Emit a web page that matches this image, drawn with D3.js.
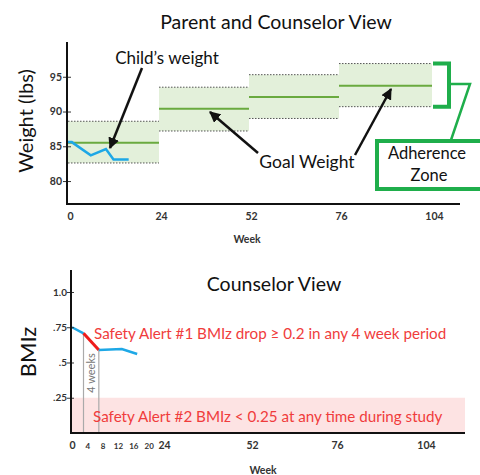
<!DOCTYPE html>
<html>
<head>
<meta charset="utf-8">
<script src="https://cdn.jsdelivr.net/npm/d3@7/dist/d3.min.js"></script>
<style>
  html, body { margin: 0; padding: 0; background: #fff; }
  svg { display: block; font-family: Lato, "Open Sans", sans-serif; }
  .tick text { fill: #333; font-weight: 700; }
</style>
</head>
<body>
<div id="chart"></div>
<script>
// Top panel: weight vs adherence zones
const weekTicks = [0, 24, 52, 76, 104];
const zoneStart = [0, 24, 52, 76];
const zoneEnd = [24, 52, 76, 104];
const zoneUpper = [88.6, 93.5, 95.3, 96.9];
const zoneLower = [82.6, 87.2, 89.0, 90.7];
const goalWeight = [85.5, 90.4, 92.1, 93.7];
const weightTicks = [80, 85, 90, 95];

const childWeeks = [0, 1, 6, 10, 12, 16];
const childWeight = [85.6, 85.6, 83.7, 84.6, 83.1, 83.1];

// Bottom panel: BMIz
const bmizWeeks = [0, 3, 7, 13, 17];
const bmizValues = [0.75, 0.707, 0.589, 0.596, 0.56];
const alertStart = 3, alertEnd = 7;
const bmizTicks = [0.25, 0.5, 0.75, 1.0];
const bmizTickLabels = ['.25', '.5', '.75', '1.0'];
const smallWeekTicks = [4, 8, 12, 16, 20];
const lowBmiz = 0.25;

const width = 480, height = 475;
const svg = d3.select('#chart').append('svg')
  .attr('width', width).attr('height', height);

const defs = svg.append('defs');
defs.append('marker')
  .attr('id', 'arrow')
  .attr('viewBox', '0 0 10 10')
  .attr('refX', 9).attr('refY', 5)
  .attr('markerWidth', 4.5).attr('markerHeight', 4.5)
  .attr('orient', 'auto')
  .append('path').attr('d', 'M0,0L10,5L0,10z').attr('fill', '#111');

// ---------- top chart ----------
const xTop = d3.scaleLinear().domain(weekTicks).range([68, 159, 249, 339, 432]);
const yTop = d3.scaleLinear().domain([76.7, 100]).range([204, 42]);

const topG = svg.append('g');

topG.append('text')
  .attr('x', 276).attr('y', 29)
  .attr('text-anchor', 'middle')
  .attr('font-size', '19.5px').attr('fill', '#111')
  .text('Parent and Counselor View');

const zones = zoneStart.map((s, i) => ({ s, e: zoneEnd[i], hi: zoneUpper[i], lo: zoneLower[i], goal: goalWeight[i] }));

topG.selectAll('.zone').data(zones).join('rect')
  .attr('class', 'zone')
  .attr('x', d => xTop(d.s))
  .attr('width', d => xTop(d.e) - xTop(d.s))
  .attr('y', d => yTop(d.hi))
  .attr('height', d => yTop(d.lo) - yTop(d.hi))
  .attr('fill', '#e3f0da');

['hi', 'lo'].forEach(k => {
  topG.selectAll('.edge-' + k).data(zones).join('line')
    .attr('class', 'edge-' + k)
    .attr('x1', d => xTop(d.s)).attr('x2', d => xTop(d.e))
    .attr('y1', d => yTop(d[k])).attr('y2', d => yTop(d[k]))
    .attr('stroke', '#555').attr('stroke-width', 1)
    .attr('stroke-dasharray', '1.5,1.5');
});

topG.selectAll('.goal').data(zones).join('line')
  .attr('class', 'goal')
  .attr('x1', d => xTop(d.s)).attr('x2', d => xTop(d.e))
  .attr('y1', d => yTop(d.goal)).attr('y2', d => yTop(d.goal))
  .attr('stroke', '#6aaa3f').attr('stroke-width', 2);

const childLine = d3.line().x(d => xTop(d[0])).y(d => yTop(d[1]));
topG.append('path')
  .datum(childWeeks.map((w, i) => [w, childWeight[i]]))
  .attr('d', childLine)
  .attr('fill', 'none').attr('stroke', '#1ea8e6').attr('stroke-width', 2.5);

// axes
topG.append('g')
  .attr('transform', 'translate(67,0)')
  .call(d3.axisLeft(yTop).tickValues(weightTicks).tickSize(5).tickSizeOuter(0))
  .call(g => g.select('.domain').remove())
  .call(g => g.selectAll('.tick line').attr('stroke', '#333').attr('x2', 4).attr('x1', -4))
  .call(g => g.selectAll('.tick text').attr('x', -5).attr('font-size', '10.5px').attr('font-family', 'Lato'));

topG.append('line').attr('x1', 67).attr('x2', 67).attr('y1', 42).attr('y2', 205)
  .attr('stroke', '#111').attr('stroke-width', 2);
topG.append('line').attr('x1', 66).attr('x2', 460).attr('y1', 204).attr('y2', 204)
  .attr('stroke', '#111').attr('stroke-width', 2);

topG.append('g')
  .attr('transform', 'translate(2,204)')
  .call(d3.axisBottom(xTop).tickValues(weekTicks).tickSize(0).tickPadding(9))
  .call(g => g.select('.domain').remove())
  .call(g => g.selectAll('.tick text').attr('font-size', '10.5px').attr('font-family', 'Lato'));

topG.append('text')
  .attr('x', 247).attr('y', 243)
  .attr('text-anchor', 'middle').attr('font-size', '10.5px').attr('font-weight', 700).attr('fill', '#333')
  .text('Week');

topG.append('text')
  .attr('transform', 'translate(33,121) rotate(-90)')
  .attr('text-anchor', 'middle').attr('font-size', '20px').attr('fill', '#111')
  .text('Weight (lbs)');

// annotations
topG.append('text').attr('x', 167).attr('y', 64)
  .attr('text-anchor', 'middle').attr('font-size', '17px').attr('fill', '#111')
  .text('Child\u2019s weight');
topG.append('text').attr('x', 307).attr('y', 168)
  .attr('text-anchor', 'middle').attr('font-size', '17.5px').attr('fill', '#111')
  .text('Goal Weight');

const arrows = [
  [142, 68, 110, 148],
  [258, 153, 210, 112],
  [355, 155, 391, 89]
];
topG.selectAll('.arrow').data(arrows).join('line')
  .attr('class', 'arrow')
  .attr('x1', d => d[0]).attr('y1', d => d[1])
  .attr('x2', d => d[2]).attr('y2', d => d[3])
  .attr('stroke', '#111').attr('stroke-width', 2.5)
  .attr('marker-end', 'url(#arrow)');

// adherence bracket
const green = '#1fae4b';
topG.append('path')
  .attr('d', `M433,${yTop(zoneUpper[3])} H449 V${yTop(zoneLower[3])} H433`)
  .attr('fill', 'none').attr('stroke', green).attr('stroke-width', 4);
topG.append('path')
  .attr('d', 'M449,84 H470 L451,140')
  .attr('fill', 'none').attr('stroke', green).attr('stroke-width', 2.5);
topG.append('rect')
  .attr('x', 377).attr('y', 141).attr('width', 110).attr('height', 48)
  .attr('fill', '#fff').attr('stroke', green).attr('stroke-width', 4);
topG.append('text').attr('x', 427).attr('y', 159)
  .attr('text-anchor', 'middle').attr('font-size', '16.5px').attr('fill', '#111')
  .text('Adherence');
topG.append('text').attr('x', 429).attr('y', 181)
  .attr('text-anchor', 'middle').attr('font-size', '16.5px').attr('fill', '#111')
  .text('Zone');

// ---------- bottom chart ----------
const xBot = d3.scaleLinear().domain(weekTicks).range([72, 164, 252, 337, 426]);
const yBot = d3.scaleLinear().domain([0, 1.156]).range([433, 270]);

const botG = svg.append('g');

botG.append('rect')
  .attr('x', 71).attr('width', 465 - 71)
  .attr('y', yBot(lowBmiz)).attr('height', yBot(0) - yBot(lowBmiz))
  .attr('fill', '#fde3e3');

botG.append('text')
  .attr('x', 274).attr('y', 291)
  .attr('text-anchor', 'middle').attr('font-size', '19.5px').attr('fill', '#111')
  .text('Counselor View');

// 4-week markers
const pts = bmizWeeks.map((w, i) => [w, bmizValues[i]]);
const valueAt = w => pts.find(p => p[0] === w)[1];
botG.selectAll('.wk').data([alertStart, alertEnd]).join('line')
  .attr('class', 'wk')
  .attr('x1', d => xBot(d)).attr('x2', d => xBot(d))
  .attr('y1', d => yBot(valueAt(d))).attr('y2', 433)
  .attr('stroke', '#aaa').attr('stroke-width', 1.2);
botG.append('text')
  .attr('transform', `translate(${(xBot(alertStart) + xBot(alertEnd)) / 2 + 4},373) rotate(-90)`)
  .attr('text-anchor', 'middle').attr('font-size', '11px').attr('fill', '#777')
  .text('4 weeks');

const bLine = d3.line().x(d => xBot(d[0])).y(d => yBot(d[1]));
botG.append('path').datum(pts.filter(p => p[0] <= alertStart))
  .attr('d', bLine).attr('fill', 'none').attr('stroke', '#1ea8e6').attr('stroke-width', 2.5);
botG.append('path').datum(pts.filter(p => p[0] >= alertStart && p[0] <= alertEnd))
  .attr('d', bLine).attr('fill', 'none').attr('stroke', '#ee1c1c').attr('stroke-width', 3);
botG.append('path').datum(pts.filter(p => p[0] >= alertEnd))
  .attr('d', bLine).attr('fill', 'none').attr('stroke', '#1ea8e6').attr('stroke-width', 2.5);

botG.append('text').attr('x', 94).attr('y', 339)
  .attr('font-size', '15.2px').attr('fill', '#f03c3c')
  .text('Safety Alert #1 BMIz drop \u2265 0.2 in any 4 week period');
botG.append('text').attr('x', 93).attr('y', 422)
  .attr('font-size', '15.2px').attr('fill', '#f03c3c')
  .text('Safety Alert #2 BMIz < 0.25 at any time during study');

// axes
botG.append('g')
  .attr('transform', 'translate(71,0)')
  .call(d3.axisLeft(yBot).tickValues(bmizTicks).tickFormat((d, i) => bmizTickLabels[i]).tickSize(4))
  .call(g => g.select('.domain').remove())
  .call(g => g.selectAll('.tick line').attr('stroke', '#333').attr('x1', -4).attr('x2', 3))
  .call(g => g.selectAll('.tick text').attr('x', -4).attr('font-size', '10px').attr('font-family', 'Lato'));

botG.append('line').attr('x1', 71).attr('x2', 71).attr('y1', 270).attr('y2', 434)
  .attr('stroke', '#111').attr('stroke-width', 2);
botG.append('line').attr('x1', 70).attr('x2', 465).attr('y1', 433).attr('y2', 433)
  .attr('stroke', '#111').attr('stroke-width', 2);

botG.append('g')
  .attr('transform', 'translate(0,433)')
  .call(d3.axisBottom(xBot).tickValues(weekTicks).tickSize(0).tickPadding(9))
  .call(g => g.select('.domain').remove())
  .call(g => g.selectAll('.tick text').attr('font-size', '10.5px').attr('font-family', 'Lato'));
botG.append('g')
  .attr('transform', 'translate(0,433)')
  .call(d3.axisBottom(xBot).tickValues(smallWeekTicks).tickSize(0).tickPadding(10))
  .call(g => g.select('.domain').remove())
  .call(g => g.selectAll('.tick text').attr('font-size', '8px').attr('font-family', 'Lato'));

botG.append('text')
  .attr('x', 263).attr('y', 474)
  .attr('text-anchor', 'middle').attr('font-size', '10.5px').attr('font-weight', 700).attr('fill', '#333')
  .text('Week');

botG.append('text')
  .attr('transform', 'translate(36,352) rotate(-90)')
  .attr('text-anchor', 'middle').attr('font-size', '22px').attr('fill', '#111')
  .text('BMIz');
</script>
</body>
</html>
